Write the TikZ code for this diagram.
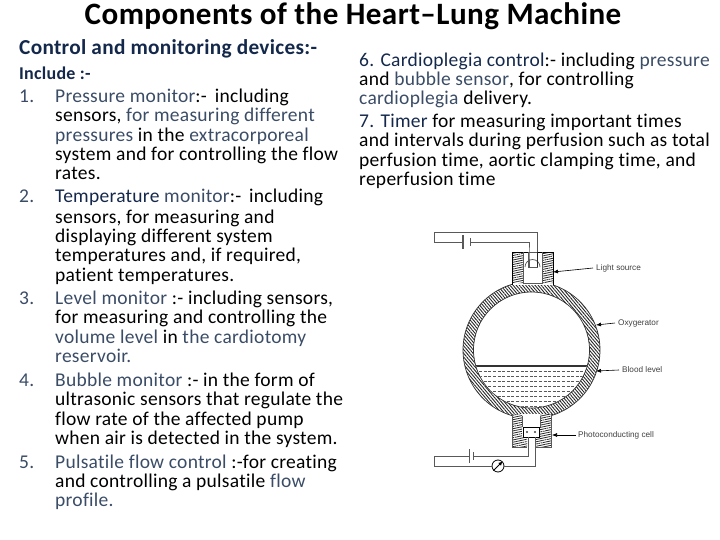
\documentclass[tikz,border=0pt]{standalone}
\usepackage{fontspec}
\setmainfont{Carlito}[LetterSpace=1.4,Ligatures=NoCommon]
\setsansfont{Liberation Sans}
\usetikzlibrary{patterns.meta,arrows.meta}
\definecolor{navy}{HTML}{14284B}
\definecolor{slate}{HTML}{3A4C66}
\newcommand{\blu}[1]{\textcolor{slate}{#1}}
\newcommand{\nvy}[1]{\textcolor{navy}{#1}}
\begin{document}
\begin{tikzpicture}[x=1pt,y=-1pt,%
% common options for the slide text:
txt/.style = {anchor=base west, inner sep=0, font=\fontsize{19.5}{19.5}\selectfont, text=black},
head/.style = {anchor=base west, inner sep=0, font=\fontsize{21.3}{21.3}\selectfont\bfseries, text=navy},
% common options for the drawing:
tag/.style = {anchor=west, inner sep=0, font=\sffamily\fontsize{8.2}{8.2}\selectfont, text=black!75},
pointer/.style = {-{Latex[length=5pt,width=4pt]}, line width=0.6pt},
wire/.style = {line width=0.7pt, draw=black!65},
wallhatch/.style = {pattern={Lines[angle=-50,distance=2.4pt,line width=0.9pt]}, pattern color=black!85},
boxhatch/.style = {pattern={Lines[angle=12,distance=2.2pt,line width=0.8pt]}, pattern color=black!85}]
\useasboundingbox (0,0) rectangle (720,540);
% title and left column
\node[anchor=base, inner sep=0, font=\fontsize{31.1}{31.1}\selectfont\bfseries] (title) at (353,25) {Components of the Heart--Lung Machine};
\node[head] (H0) at (19,55) {Control and monitoring devices:-};
\node[head,font=\fontsize{18}{18}\selectfont\bfseries] (H1) at (19,80) {Include :-};
\node[txt] (N1) at (19,103) {\blu{1.}};
\node[txt] (A1) at (55,103) {\blu{Pressure monitor}:-\, including};
\node[txt] (A2) at (55,122) {sensors, \blu{for measuring different}};
\node[txt] (A3) at (55,142) {\blu{pressures} in the \blu{extracorporeal}};
\node[txt] (A4) at (55,161) {system and for controlling the flow};
\node[txt] (A5) at (55,180) {rates.};
\node[txt] (N2) at (19,203) {\blu{2.}};
\node[txt] (B1) at (55,203) {\nvy{Temperature} \blu{monitor}:-\, including};
\node[txt] (B2) at (55,223) {sensors, for measuring and};
\node[txt] (B3) at (55,242) {displaying different system};
\node[txt] (B4) at (55,261) {temperatures and, if required,};
\node[txt] (B5) at (55,281) {patient temperatures.};
\node[txt] (N3) at (19,304) {\blu{3.}};
\node[txt] (C1) at (55,304) {\blu{Level monitor} :- including sensors,};
\node[txt] (C2) at (55,323) {for measuring and controlling the};
\node[txt] (C3) at (55,343) {\blu{volume level} in \blu{the cardiotomy}};
\node[txt] (C4) at (55,362) {\blu{reservoir.}};
\node[txt] (N4) at (19,386) {\blu{4.}};
\node[txt] (D1) at (55,386) {\blu{Bubble monitor} :- in the form of};
\node[txt] (D2) at (55,405) {ultrasonic sensors that regulate the};
\node[txt] (D3) at (55,425) {flow rate of the affected pump};
\node[txt] (D4) at (55,444) {when air is detected in the system.};
\node[txt] (N5) at (19,468) {\blu{5.}};
\node[txt] (E1) at (55,468) {\blu{Pulsatile flow control} :-for creating};
\node[txt] (E2) at (55,487) {and controlling a pulsatile \blu{flow}};
\node[txt] (E3) at (55,506) {\blu{profile.}};
% right column
\node[txt] (F1) at (359,67) {\nvy{6. Cardioplegia control}:- including \blu{pressure}};
\node[txt] (F2) at (359,86) {and \blu{bubble sensor}, for controlling};
\node[txt] (F3) at (359,105) {\blu{cardioplegia} delivery.};
\node[txt] (G1) at (359,128) {\nvy{7. Timer} for measuring important times};
\node[txt] (G2) at (359,147) {and intervals during perfusion such as total};
\node[txt] (G3) at (359,167) {perfusion time, aortic clamping time, and};
\node[txt] (G4) at (359,186) {reperfusion time};
% oxygenator wall and blood
\path[wallhatch, even odd rule] (531.5,350) circle[radius=68.5] (531.5,350) circle[radius=58];
\draw[wire,draw=black!80] (531.5,350) circle[radius=68.5] (531.5,350) circle[radius=58];
\begin{scope}
\clip (531.5,350) circle[radius=57.5];
\draw[line width=1.2pt,draw=black!80] (470,366) -- (595,366);
\foreach \y in {371,376,...,406}
  \draw[dashed,dash pattern=on 3pt off 1.6pt,line width=0.5pt,draw=black!65] (470,\y) -- (595,\y);
\end{scope}
% light source housing
\path[fill=white] (512,252) rectangle (553,285);
\path[boxhatch] (512,252) rectangle (523,283) (542,252) rectangle (553,283);
\draw[line width=1pt] (512,285) -- (512,252) -- (553,252) -- (553,285);
\draw[wire] (523,252) -- (523,283) -- (542,283) -- (542,252);
\draw[wire,fill=white] (528,252) rectangle (537,267);
\draw[wire] (525,267) arc[start angle=180,end angle=360,radius=7.5];
\coordinate (lampA) at (537,252);
\coordinate (lampB) at (529,252);
\coordinate (batA) at (463,242);
\coordinate (batB) at (470,242);
\draw[wire] (lampA) |- (434,232) |- (batA);
\draw[wire,line width=1.1pt] (batA) ++(0,-7) -- ++(0,14);
\draw[wire] (batB) ++(0,-4) -- ++(0,8);
\draw[wire,line width=1pt] (batB) -| (lampB) -- (529,267);
\draw[line width=1pt,draw=black!85] (537,252) -- (537,267);
% photocell housing
\path[fill=white] (512,414) rectangle (551,447);
\path[boxhatch] (512,414) rectangle (522,447) (540,414) rectangle (551,447)
  (522,437) rectangle (527,447) (535,437) rectangle (540,447);
\draw[wire] (512,414) -- (512,447) -- (527,447) (535,447) -- (551,447) -- (551,414);
\draw[wire] (522,416) -- (522,427) (540,416) -- (540,427);
\node[draw,line width=0.7pt,fill=white,minimum width=16pt,minimum height=10pt,inner sep=0] (cell) at (531,432) {};
\fill[black!75] (527,432) circle[radius=1.1] (535,432) circle[radius=1.1];
\coordinate (cellA) at (528,437);
\coordinate (cellB) at (535,437);
\coordinate (batC) at (473,456);
\coordinate (batD) at (469,456);
\node[circle,draw,line width=0.8pt,fill=white,minimum size=12pt,inner sep=0] (meter) at (498,466) {};
\draw[wire] (cellA) |- (batC);
\draw[wire] (batC) ++(0,-4) -- ++(0,8);
\draw[wire,line width=1pt] (batD) ++(0,-7) -- ++(0,14);
\draw[wire] (batD) -| (434,466) -- (meter);
\draw[wire] (meter) -| (cellB);
\draw[-{Latex[length=4pt,width=4pt]},line width=0.8pt] (meter.south west) -- (meter.north east);
% labels
\node[tag] (light) at (596,268) {Light source};
\node[tag] (oxy) at (618,323) {Oxygerator};
\node[tag] (blood) at (622,370) {Blood level};
\node[tag] (photo) at (578,435) {Photoconducting cell};
\coordinate (lightTip) at (553,272);
\coordinate (oxyTip) at (596,325);
\coordinate (bloodTip) at (596,371);
\coordinate (photoTip) at (552,435);
\draw[pointer] (light.west) ++(-3,0) -- (lightTip);
\draw[pointer] (oxy.west) ++(-3,0) -- (oxyTip);
\draw[pointer] (blood.west) ++(-3,0) -- (bloodTip);
\draw[pointer] (photo.west) ++(-2,0) -- (photoTip);
\end{tikzpicture}
\end{document}
